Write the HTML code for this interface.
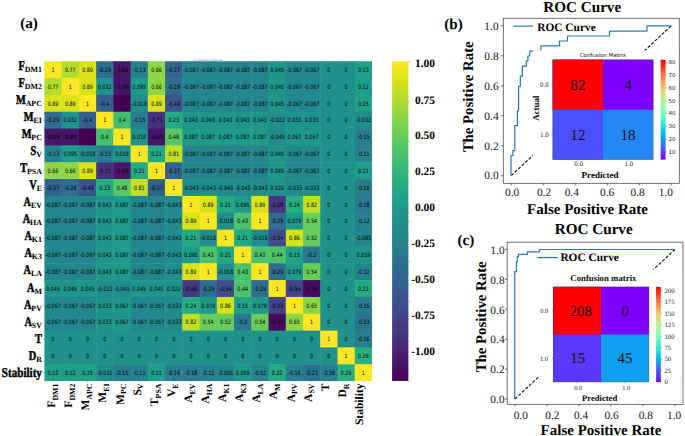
<!DOCTYPE html><html><head><meta charset="utf-8"><title>Figure</title>
<style>html,body{margin:0;padding:0;background:#fff}svg{display:block}text{text-rendering:geometricPrecision}.s{font-family:"Liberation Serif","DejaVu Serif",serif}.b{font-family:"Liberation Serif","DejaVu Serif",serif;font-weight:bold}.d{font-family:"DejaVu Sans","Liberation Sans",sans-serif}</style></head><body>
<svg width="685" height="436" viewBox="0 0 685 436">
<rect width="685" height="436" fill="#fff"/>
<g>
<rect x="44.40" y="61.25" width="17.74" height="17.33" fill="#fde725"/>
<rect x="61.64" y="61.25" width="17.74" height="17.33" fill="#b2dd2d"/>
<rect x="78.88" y="61.25" width="17.74" height="17.33" fill="#dae319"/>
<rect x="96.13" y="61.25" width="17.74" height="17.33" fill="#2e6d8e"/>
<rect x="113.37" y="61.25" width="17.74" height="17.33" fill="#481668"/>
<rect x="130.61" y="61.25" width="17.74" height="17.33" fill="#26818e"/>
<rect x="147.85" y="61.25" width="17.74" height="17.33" fill="#8ed645"/>
<rect x="165.09" y="61.25" width="17.74" height="17.33" fill="#33638d"/>
<rect x="182.34" y="61.25" width="17.74" height="17.33" fill="#25858e"/>
<rect x="199.58" y="61.25" width="17.74" height="17.33" fill="#25858e"/>
<rect x="216.82" y="61.25" width="17.74" height="17.33" fill="#25858e"/>
<rect x="234.06" y="61.25" width="17.74" height="17.33" fill="#25858e"/>
<rect x="251.31" y="61.25" width="17.74" height="17.33" fill="#25858e"/>
<rect x="268.55" y="61.25" width="17.74" height="17.33" fill="#1f958b"/>
<rect x="285.79" y="61.25" width="17.74" height="17.33" fill="#23888e"/>
<rect x="303.03" y="61.25" width="17.74" height="17.33" fill="#23888e"/>
<rect x="320.27" y="61.25" width="17.74" height="17.33" fill="#21918c"/>
<rect x="337.52" y="61.25" width="17.74" height="17.33" fill="#21918c"/>
<rect x="354.76" y="61.25" width="17.74" height="17.33" fill="#1fa088"/>
<rect x="44.40" y="78.08" width="17.74" height="17.33" fill="#b2dd2d"/>
<rect x="61.64" y="78.08" width="17.74" height="17.33" fill="#fde725"/>
<rect x="78.88" y="78.08" width="17.74" height="17.33" fill="#dae319"/>
<rect x="96.13" y="78.08" width="17.74" height="17.33" fill="#1f948c"/>
<rect x="113.37" y="78.08" width="17.74" height="17.33" fill="#481668"/>
<rect x="130.61" y="78.08" width="17.74" height="17.33" fill="#1e9c89"/>
<rect x="147.85" y="78.08" width="17.74" height="17.33" fill="#8ed645"/>
<rect x="165.09" y="78.08" width="17.74" height="17.33" fill="#2e6f8e"/>
<rect x="182.34" y="78.08" width="17.74" height="17.33" fill="#25858e"/>
<rect x="199.58" y="78.08" width="17.74" height="17.33" fill="#25858e"/>
<rect x="216.82" y="78.08" width="17.74" height="17.33" fill="#25858e"/>
<rect x="234.06" y="78.08" width="17.74" height="17.33" fill="#25858e"/>
<rect x="251.31" y="78.08" width="17.74" height="17.33" fill="#25858e"/>
<rect x="268.55" y="78.08" width="17.74" height="17.33" fill="#1f958b"/>
<rect x="285.79" y="78.08" width="17.74" height="17.33" fill="#23888e"/>
<rect x="303.03" y="78.08" width="17.74" height="17.33" fill="#23888e"/>
<rect x="320.27" y="78.08" width="17.74" height="17.33" fill="#21918c"/>
<rect x="337.52" y="78.08" width="17.74" height="17.33" fill="#21918c"/>
<rect x="354.76" y="78.08" width="17.74" height="17.33" fill="#1f9f88"/>
<rect x="44.40" y="94.92" width="17.74" height="17.33" fill="#dae319"/>
<rect x="61.64" y="94.92" width="17.74" height="17.33" fill="#dae319"/>
<rect x="78.88" y="94.92" width="17.74" height="17.33" fill="#fde725"/>
<rect x="96.13" y="94.92" width="17.74" height="17.33" fill="#355f8d"/>
<rect x="113.37" y="94.92" width="17.74" height="17.33" fill="#440154"/>
<rect x="130.61" y="94.92" width="17.74" height="17.33" fill="#218e8d"/>
<rect x="147.85" y="94.92" width="17.74" height="17.33" fill="#dae319"/>
<rect x="165.09" y="94.92" width="17.74" height="17.33" fill="#3a548c"/>
<rect x="182.34" y="94.92" width="17.74" height="17.33" fill="#25858e"/>
<rect x="199.58" y="94.92" width="17.74" height="17.33" fill="#25858e"/>
<rect x="216.82" y="94.92" width="17.74" height="17.33" fill="#25858e"/>
<rect x="234.06" y="94.92" width="17.74" height="17.33" fill="#25858e"/>
<rect x="251.31" y="94.92" width="17.74" height="17.33" fill="#25858e"/>
<rect x="268.55" y="94.92" width="17.74" height="17.33" fill="#1f958b"/>
<rect x="285.79" y="94.92" width="17.74" height="17.33" fill="#23888e"/>
<rect x="303.03" y="94.92" width="17.74" height="17.33" fill="#23888e"/>
<rect x="320.27" y="94.92" width="17.74" height="17.33" fill="#21918c"/>
<rect x="337.52" y="94.92" width="17.74" height="17.33" fill="#21918c"/>
<rect x="354.76" y="94.92" width="17.74" height="17.33" fill="#1fa287"/>
<rect x="44.40" y="111.75" width="17.74" height="17.33" fill="#2e6d8e"/>
<rect x="61.64" y="111.75" width="17.74" height="17.33" fill="#1f948c"/>
<rect x="78.88" y="111.75" width="17.74" height="17.33" fill="#355f8d"/>
<rect x="96.13" y="111.75" width="17.74" height="17.33" fill="#fde725"/>
<rect x="113.37" y="111.75" width="17.74" height="17.33" fill="#44bf70"/>
<rect x="130.61" y="111.75" width="17.74" height="17.33" fill="#277e8e"/>
<rect x="147.85" y="111.75" width="17.74" height="17.33" fill="#46337f"/>
<rect x="165.09" y="111.75" width="17.74" height="17.33" fill="#25ac82"/>
<rect x="182.34" y="111.75" width="17.74" height="17.33" fill="#1f958b"/>
<rect x="199.58" y="111.75" width="17.74" height="17.33" fill="#1f958b"/>
<rect x="216.82" y="111.75" width="17.74" height="17.33" fill="#1f958b"/>
<rect x="234.06" y="111.75" width="17.74" height="17.33" fill="#1f958b"/>
<rect x="251.31" y="111.75" width="17.74" height="17.33" fill="#1f958b"/>
<rect x="268.55" y="111.75" width="17.74" height="17.33" fill="#218e8d"/>
<rect x="285.79" y="111.75" width="17.74" height="17.33" fill="#1f948c"/>
<rect x="303.03" y="111.75" width="17.74" height="17.33" fill="#1f948c"/>
<rect x="320.27" y="111.75" width="17.74" height="17.33" fill="#21918c"/>
<rect x="337.52" y="111.75" width="17.74" height="17.33" fill="#21918c"/>
<rect x="354.76" y="111.75" width="17.74" height="17.33" fill="#228c8d"/>
<rect x="44.40" y="128.59" width="17.74" height="17.33" fill="#481668"/>
<rect x="61.64" y="128.59" width="17.74" height="17.33" fill="#481668"/>
<rect x="78.88" y="128.59" width="17.74" height="17.33" fill="#440154"/>
<rect x="96.13" y="128.59" width="17.74" height="17.33" fill="#44bf70"/>
<rect x="113.37" y="128.59" width="17.74" height="17.33" fill="#fde725"/>
<rect x="130.61" y="128.59" width="17.74" height="17.33" fill="#20928c"/>
<rect x="147.85" y="128.59" width="17.74" height="17.33" fill="#481668"/>
<rect x="165.09" y="128.59" width="17.74" height="17.33" fill="#58c765"/>
<rect x="182.34" y="128.59" width="17.74" height="17.33" fill="#1e9b8a"/>
<rect x="199.58" y="128.59" width="17.74" height="17.33" fill="#1e9b8a"/>
<rect x="216.82" y="128.59" width="17.74" height="17.33" fill="#1e9b8a"/>
<rect x="234.06" y="128.59" width="17.74" height="17.33" fill="#1e9b8a"/>
<rect x="251.31" y="128.59" width="17.74" height="17.33" fill="#1e9b8a"/>
<rect x="268.55" y="128.59" width="17.74" height="17.33" fill="#228b8d"/>
<rect x="285.79" y="128.59" width="17.74" height="17.33" fill="#1f988b"/>
<rect x="303.03" y="128.59" width="17.74" height="17.33" fill="#1f988b"/>
<rect x="320.27" y="128.59" width="17.74" height="17.33" fill="#21918c"/>
<rect x="337.52" y="128.59" width="17.74" height="17.33" fill="#21918c"/>
<rect x="354.76" y="128.59" width="17.74" height="17.33" fill="#277e8e"/>
<rect x="44.40" y="145.42" width="17.74" height="17.33" fill="#26818e"/>
<rect x="61.64" y="145.42" width="17.74" height="17.33" fill="#1e9c89"/>
<rect x="78.88" y="145.42" width="17.74" height="17.33" fill="#218e8d"/>
<rect x="96.13" y="145.42" width="17.74" height="17.33" fill="#277e8e"/>
<rect x="113.37" y="145.42" width="17.74" height="17.33" fill="#20928c"/>
<rect x="130.61" y="145.42" width="17.74" height="17.33" fill="#fde725"/>
<rect x="147.85" y="145.42" width="17.74" height="17.33" fill="#23a983"/>
<rect x="165.09" y="145.42" width="17.74" height="17.33" fill="#c0df25"/>
<rect x="182.34" y="145.42" width="17.74" height="17.33" fill="#25858e"/>
<rect x="199.58" y="145.42" width="17.74" height="17.33" fill="#25858e"/>
<rect x="216.82" y="145.42" width="17.74" height="17.33" fill="#25858e"/>
<rect x="234.06" y="145.42" width="17.74" height="17.33" fill="#25858e"/>
<rect x="251.31" y="145.42" width="17.74" height="17.33" fill="#25858e"/>
<rect x="268.55" y="145.42" width="17.74" height="17.33" fill="#1f958b"/>
<rect x="285.79" y="145.42" width="17.74" height="17.33" fill="#23888e"/>
<rect x="303.03" y="145.42" width="17.74" height="17.33" fill="#23888e"/>
<rect x="320.27" y="145.42" width="17.74" height="17.33" fill="#21918c"/>
<rect x="337.52" y="145.42" width="17.74" height="17.33" fill="#21918c"/>
<rect x="354.76" y="145.42" width="17.74" height="17.33" fill="#26828e"/>
<rect x="44.40" y="162.26" width="17.74" height="17.33" fill="#8ed645"/>
<rect x="61.64" y="162.26" width="17.74" height="17.33" fill="#8ed645"/>
<rect x="78.88" y="162.26" width="17.74" height="17.33" fill="#dae319"/>
<rect x="96.13" y="162.26" width="17.74" height="17.33" fill="#46337f"/>
<rect x="113.37" y="162.26" width="17.74" height="17.33" fill="#481668"/>
<rect x="130.61" y="162.26" width="17.74" height="17.33" fill="#23a983"/>
<rect x="147.85" y="162.26" width="17.74" height="17.33" fill="#fde725"/>
<rect x="165.09" y="162.26" width="17.74" height="17.33" fill="#33638d"/>
<rect x="182.34" y="162.26" width="17.74" height="17.33" fill="#25858e"/>
<rect x="199.58" y="162.26" width="17.74" height="17.33" fill="#25858e"/>
<rect x="216.82" y="162.26" width="17.74" height="17.33" fill="#25858e"/>
<rect x="234.06" y="162.26" width="17.74" height="17.33" fill="#25858e"/>
<rect x="251.31" y="162.26" width="17.74" height="17.33" fill="#25858e"/>
<rect x="268.55" y="162.26" width="17.74" height="17.33" fill="#1f958b"/>
<rect x="285.79" y="162.26" width="17.74" height="17.33" fill="#23888e"/>
<rect x="303.03" y="162.26" width="17.74" height="17.33" fill="#23888e"/>
<rect x="320.27" y="162.26" width="17.74" height="17.33" fill="#21918c"/>
<rect x="337.52" y="162.26" width="17.74" height="17.33" fill="#21918c"/>
<rect x="354.76" y="162.26" width="17.74" height="17.33" fill="#1f9e89"/>
<rect x="44.40" y="179.09" width="17.74" height="17.33" fill="#33638d"/>
<rect x="61.64" y="179.09" width="17.74" height="17.33" fill="#2e6f8e"/>
<rect x="78.88" y="179.09" width="17.74" height="17.33" fill="#3a548c"/>
<rect x="96.13" y="179.09" width="17.74" height="17.33" fill="#25ac82"/>
<rect x="113.37" y="179.09" width="17.74" height="17.33" fill="#58c765"/>
<rect x="130.61" y="179.09" width="17.74" height="17.33" fill="#c0df25"/>
<rect x="147.85" y="179.09" width="17.74" height="17.33" fill="#33638d"/>
<rect x="165.09" y="179.09" width="17.74" height="17.33" fill="#fde725"/>
<rect x="182.34" y="179.09" width="17.74" height="17.33" fill="#228b8d"/>
<rect x="199.58" y="179.09" width="17.74" height="17.33" fill="#228b8d"/>
<rect x="216.82" y="179.09" width="17.74" height="17.33" fill="#228b8d"/>
<rect x="234.06" y="179.09" width="17.74" height="17.33" fill="#228b8d"/>
<rect x="251.31" y="179.09" width="17.74" height="17.33" fill="#228b8d"/>
<rect x="268.55" y="179.09" width="17.74" height="17.33" fill="#20928c"/>
<rect x="285.79" y="179.09" width="17.74" height="17.33" fill="#228c8d"/>
<rect x="303.03" y="179.09" width="17.74" height="17.33" fill="#228c8d"/>
<rect x="320.27" y="179.09" width="17.74" height="17.33" fill="#21918c"/>
<rect x="337.52" y="179.09" width="17.74" height="17.33" fill="#21918c"/>
<rect x="354.76" y="179.09" width="17.74" height="17.33" fill="#287d8e"/>
<rect x="44.40" y="195.92" width="17.74" height="17.33" fill="#25858e"/>
<rect x="61.64" y="195.92" width="17.74" height="17.33" fill="#25858e"/>
<rect x="78.88" y="195.92" width="17.74" height="17.33" fill="#25858e"/>
<rect x="96.13" y="195.92" width="17.74" height="17.33" fill="#1f958b"/>
<rect x="113.37" y="195.92" width="17.74" height="17.33" fill="#1e9b8a"/>
<rect x="130.61" y="195.92" width="17.74" height="17.33" fill="#25858e"/>
<rect x="147.85" y="195.92" width="17.74" height="17.33" fill="#25858e"/>
<rect x="165.09" y="195.92" width="17.74" height="17.33" fill="#228b8d"/>
<rect x="182.34" y="195.92" width="17.74" height="17.33" fill="#fde725"/>
<rect x="199.58" y="195.92" width="17.74" height="17.33" fill="#dae319"/>
<rect x="216.82" y="195.92" width="17.74" height="17.33" fill="#23a983"/>
<rect x="234.06" y="195.92" width="17.74" height="17.33" fill="#1e9c89"/>
<rect x="251.31" y="195.92" width="17.74" height="17.33" fill="#dae319"/>
<rect x="268.55" y="195.92" width="17.74" height="17.33" fill="#453781"/>
<rect x="285.79" y="195.92" width="17.74" height="17.33" fill="#26ad81"/>
<rect x="303.03" y="195.92" width="17.74" height="17.33" fill="#c2df23"/>
<rect x="320.27" y="195.92" width="17.74" height="17.33" fill="#21918c"/>
<rect x="337.52" y="195.92" width="17.74" height="17.33" fill="#21918c"/>
<rect x="354.76" y="195.92" width="17.74" height="17.33" fill="#297a8e"/>
<rect x="44.40" y="212.76" width="17.74" height="17.33" fill="#25858e"/>
<rect x="61.64" y="212.76" width="17.74" height="17.33" fill="#25858e"/>
<rect x="78.88" y="212.76" width="17.74" height="17.33" fill="#25858e"/>
<rect x="96.13" y="212.76" width="17.74" height="17.33" fill="#1f958b"/>
<rect x="113.37" y="212.76" width="17.74" height="17.33" fill="#1e9b8a"/>
<rect x="130.61" y="212.76" width="17.74" height="17.33" fill="#25858e"/>
<rect x="147.85" y="212.76" width="17.74" height="17.33" fill="#25858e"/>
<rect x="165.09" y="212.76" width="17.74" height="17.33" fill="#228b8d"/>
<rect x="182.34" y="212.76" width="17.74" height="17.33" fill="#dae319"/>
<rect x="199.58" y="212.76" width="17.74" height="17.33" fill="#fde725"/>
<rect x="216.82" y="212.76" width="17.74" height="17.33" fill="#218e8d"/>
<rect x="234.06" y="212.76" width="17.74" height="17.33" fill="#4cc26c"/>
<rect x="251.31" y="212.76" width="17.74" height="17.33" fill="#fde725"/>
<rect x="268.55" y="212.76" width="17.74" height="17.33" fill="#2e6d8e"/>
<rect x="285.79" y="212.76" width="17.74" height="17.33" fill="#1f9a8a"/>
<rect x="303.03" y="212.76" width="17.74" height="17.33" fill="#69cd5b"/>
<rect x="320.27" y="212.76" width="17.74" height="17.33" fill="#21918c"/>
<rect x="337.52" y="212.76" width="17.74" height="17.33" fill="#21918c"/>
<rect x="354.76" y="212.76" width="17.74" height="17.33" fill="#26828e"/>
<rect x="44.40" y="229.59" width="17.74" height="17.33" fill="#25858e"/>
<rect x="61.64" y="229.59" width="17.74" height="17.33" fill="#25858e"/>
<rect x="78.88" y="229.59" width="17.74" height="17.33" fill="#25858e"/>
<rect x="96.13" y="229.59" width="17.74" height="17.33" fill="#1f958b"/>
<rect x="113.37" y="229.59" width="17.74" height="17.33" fill="#1e9b8a"/>
<rect x="130.61" y="229.59" width="17.74" height="17.33" fill="#25858e"/>
<rect x="147.85" y="229.59" width="17.74" height="17.33" fill="#25858e"/>
<rect x="165.09" y="229.59" width="17.74" height="17.33" fill="#228b8d"/>
<rect x="182.34" y="229.59" width="17.74" height="17.33" fill="#23a983"/>
<rect x="199.58" y="229.59" width="17.74" height="17.33" fill="#218e8d"/>
<rect x="216.82" y="229.59" width="17.74" height="17.33" fill="#fde725"/>
<rect x="234.06" y="229.59" width="17.74" height="17.33" fill="#23a983"/>
<rect x="251.31" y="229.59" width="17.74" height="17.33" fill="#218e8d"/>
<rect x="268.55" y="229.59" width="17.74" height="17.33" fill="#3e4c8a"/>
<rect x="285.79" y="229.59" width="17.74" height="17.33" fill="#d2e21b"/>
<rect x="303.03" y="229.59" width="17.74" height="17.33" fill="#63cb5f"/>
<rect x="320.27" y="229.59" width="17.74" height="17.33" fill="#21918c"/>
<rect x="337.52" y="229.59" width="17.74" height="17.33" fill="#21918c"/>
<rect x="354.76" y="229.59" width="17.74" height="17.33" fill="#25848e"/>
<rect x="44.40" y="246.43" width="17.74" height="17.33" fill="#25858e"/>
<rect x="61.64" y="246.43" width="17.74" height="17.33" fill="#25858e"/>
<rect x="78.88" y="246.43" width="17.74" height="17.33" fill="#25858e"/>
<rect x="96.13" y="246.43" width="17.74" height="17.33" fill="#1f958b"/>
<rect x="113.37" y="246.43" width="17.74" height="17.33" fill="#1e9b8a"/>
<rect x="130.61" y="246.43" width="17.74" height="17.33" fill="#25858e"/>
<rect x="147.85" y="246.43" width="17.74" height="17.33" fill="#25858e"/>
<rect x="165.09" y="246.43" width="17.74" height="17.33" fill="#228b8d"/>
<rect x="182.34" y="246.43" width="17.74" height="17.33" fill="#1e9c89"/>
<rect x="199.58" y="246.43" width="17.74" height="17.33" fill="#4cc26c"/>
<rect x="216.82" y="246.43" width="17.74" height="17.33" fill="#23a983"/>
<rect x="234.06" y="246.43" width="17.74" height="17.33" fill="#fde725"/>
<rect x="251.31" y="246.43" width="17.74" height="17.33" fill="#4cc26c"/>
<rect x="268.55" y="246.43" width="17.74" height="17.33" fill="#4ec36b"/>
<rect x="285.79" y="246.43" width="17.74" height="17.33" fill="#1fa287"/>
<rect x="303.03" y="246.43" width="17.74" height="17.33" fill="#2a788e"/>
<rect x="320.27" y="246.43" width="17.74" height="17.33" fill="#21918c"/>
<rect x="337.52" y="246.43" width="17.74" height="17.33" fill="#21918c"/>
<rect x="354.76" y="246.43" width="17.74" height="17.33" fill="#1f978b"/>
<rect x="44.40" y="263.26" width="17.74" height="17.33" fill="#25858e"/>
<rect x="61.64" y="263.26" width="17.74" height="17.33" fill="#25858e"/>
<rect x="78.88" y="263.26" width="17.74" height="17.33" fill="#25858e"/>
<rect x="96.13" y="263.26" width="17.74" height="17.33" fill="#1f958b"/>
<rect x="113.37" y="263.26" width="17.74" height="17.33" fill="#1e9b8a"/>
<rect x="130.61" y="263.26" width="17.74" height="17.33" fill="#25858e"/>
<rect x="147.85" y="263.26" width="17.74" height="17.33" fill="#25858e"/>
<rect x="165.09" y="263.26" width="17.74" height="17.33" fill="#228b8d"/>
<rect x="182.34" y="263.26" width="17.74" height="17.33" fill="#dae319"/>
<rect x="199.58" y="263.26" width="17.74" height="17.33" fill="#fde725"/>
<rect x="216.82" y="263.26" width="17.74" height="17.33" fill="#218e8d"/>
<rect x="234.06" y="263.26" width="17.74" height="17.33" fill="#4cc26c"/>
<rect x="251.31" y="263.26" width="17.74" height="17.33" fill="#fde725"/>
<rect x="268.55" y="263.26" width="17.74" height="17.33" fill="#2e6d8e"/>
<rect x="285.79" y="263.26" width="17.74" height="17.33" fill="#1f9a8a"/>
<rect x="303.03" y="263.26" width="17.74" height="17.33" fill="#69cd5b"/>
<rect x="320.27" y="263.26" width="17.74" height="17.33" fill="#21918c"/>
<rect x="337.52" y="263.26" width="17.74" height="17.33" fill="#21918c"/>
<rect x="354.76" y="263.26" width="17.74" height="17.33" fill="#26828e"/>
<rect x="44.40" y="280.09" width="17.74" height="17.33" fill="#1f958b"/>
<rect x="61.64" y="280.09" width="17.74" height="17.33" fill="#1f958b"/>
<rect x="78.88" y="280.09" width="17.74" height="17.33" fill="#1f958b"/>
<rect x="96.13" y="280.09" width="17.74" height="17.33" fill="#218e8d"/>
<rect x="113.37" y="280.09" width="17.74" height="17.33" fill="#228b8d"/>
<rect x="130.61" y="280.09" width="17.74" height="17.33" fill="#1f958b"/>
<rect x="147.85" y="280.09" width="17.74" height="17.33" fill="#1f958b"/>
<rect x="165.09" y="280.09" width="17.74" height="17.33" fill="#20928c"/>
<rect x="182.34" y="280.09" width="17.74" height="17.33" fill="#453781"/>
<rect x="199.58" y="280.09" width="17.74" height="17.33" fill="#2e6d8e"/>
<rect x="216.82" y="280.09" width="17.74" height="17.33" fill="#3e4c8a"/>
<rect x="234.06" y="280.09" width="17.74" height="17.33" fill="#4ec36b"/>
<rect x="251.31" y="280.09" width="17.74" height="17.33" fill="#2e6d8e"/>
<rect x="268.55" y="280.09" width="17.74" height="17.33" fill="#fde725"/>
<rect x="285.79" y="280.09" width="17.74" height="17.33" fill="#404588"/>
<rect x="303.03" y="280.09" width="17.74" height="17.33" fill="#460a5d"/>
<rect x="320.27" y="280.09" width="17.74" height="17.33" fill="#21918c"/>
<rect x="337.52" y="280.09" width="17.74" height="17.33" fill="#21918c"/>
<rect x="354.76" y="280.09" width="17.74" height="17.33" fill="#25ab82"/>
<rect x="44.40" y="296.93" width="17.74" height="17.33" fill="#23888e"/>
<rect x="61.64" y="296.93" width="17.74" height="17.33" fill="#23888e"/>
<rect x="78.88" y="296.93" width="17.74" height="17.33" fill="#23888e"/>
<rect x="96.13" y="296.93" width="17.74" height="17.33" fill="#1f948c"/>
<rect x="113.37" y="296.93" width="17.74" height="17.33" fill="#1f988b"/>
<rect x="130.61" y="296.93" width="17.74" height="17.33" fill="#23888e"/>
<rect x="147.85" y="296.93" width="17.74" height="17.33" fill="#23888e"/>
<rect x="165.09" y="296.93" width="17.74" height="17.33" fill="#228c8d"/>
<rect x="182.34" y="296.93" width="17.74" height="17.33" fill="#26ad81"/>
<rect x="199.58" y="296.93" width="17.74" height="17.33" fill="#1f9a8a"/>
<rect x="216.82" y="296.93" width="17.74" height="17.33" fill="#d2e21b"/>
<rect x="234.06" y="296.93" width="17.74" height="17.33" fill="#1fa287"/>
<rect x="251.31" y="296.93" width="17.74" height="17.33" fill="#1f9a8a"/>
<rect x="268.55" y="296.93" width="17.74" height="17.33" fill="#404588"/>
<rect x="285.79" y="296.93" width="17.74" height="17.33" fill="#fde725"/>
<rect x="303.03" y="296.93" width="17.74" height="17.33" fill="#8bd646"/>
<rect x="320.27" y="296.93" width="17.74" height="17.33" fill="#21918c"/>
<rect x="337.52" y="296.93" width="17.74" height="17.33" fill="#21918c"/>
<rect x="354.76" y="296.93" width="17.74" height="17.33" fill="#287d8e"/>
<rect x="44.40" y="313.76" width="17.74" height="17.33" fill="#23888e"/>
<rect x="61.64" y="313.76" width="17.74" height="17.33" fill="#23888e"/>
<rect x="78.88" y="313.76" width="17.74" height="17.33" fill="#23888e"/>
<rect x="96.13" y="313.76" width="17.74" height="17.33" fill="#1f948c"/>
<rect x="113.37" y="313.76" width="17.74" height="17.33" fill="#1f988b"/>
<rect x="130.61" y="313.76" width="17.74" height="17.33" fill="#23888e"/>
<rect x="147.85" y="313.76" width="17.74" height="17.33" fill="#23888e"/>
<rect x="165.09" y="313.76" width="17.74" height="17.33" fill="#228c8d"/>
<rect x="182.34" y="313.76" width="17.74" height="17.33" fill="#c2df23"/>
<rect x="199.58" y="313.76" width="17.74" height="17.33" fill="#69cd5b"/>
<rect x="216.82" y="313.76" width="17.74" height="17.33" fill="#63cb5f"/>
<rect x="234.06" y="313.76" width="17.74" height="17.33" fill="#2a788e"/>
<rect x="251.31" y="313.76" width="17.74" height="17.33" fill="#69cd5b"/>
<rect x="268.55" y="313.76" width="17.74" height="17.33" fill="#460a5d"/>
<rect x="285.79" y="313.76" width="17.74" height="17.33" fill="#8bd646"/>
<rect x="303.03" y="313.76" width="17.74" height="17.33" fill="#fde725"/>
<rect x="320.27" y="313.76" width="17.74" height="17.33" fill="#21918c"/>
<rect x="337.52" y="313.76" width="17.74" height="17.33" fill="#21918c"/>
<rect x="354.76" y="313.76" width="17.74" height="17.33" fill="#2b748e"/>
<rect x="44.40" y="330.60" width="17.74" height="17.33" fill="#21918c"/>
<rect x="61.64" y="330.60" width="17.74" height="17.33" fill="#21918c"/>
<rect x="78.88" y="330.60" width="17.74" height="17.33" fill="#21918c"/>
<rect x="96.13" y="330.60" width="17.74" height="17.33" fill="#21918c"/>
<rect x="113.37" y="330.60" width="17.74" height="17.33" fill="#21918c"/>
<rect x="130.61" y="330.60" width="17.74" height="17.33" fill="#21918c"/>
<rect x="147.85" y="330.60" width="17.74" height="17.33" fill="#21918c"/>
<rect x="165.09" y="330.60" width="17.74" height="17.33" fill="#21918c"/>
<rect x="182.34" y="330.60" width="17.74" height="17.33" fill="#21918c"/>
<rect x="199.58" y="330.60" width="17.74" height="17.33" fill="#21918c"/>
<rect x="216.82" y="330.60" width="17.74" height="17.33" fill="#21918c"/>
<rect x="234.06" y="330.60" width="17.74" height="17.33" fill="#21918c"/>
<rect x="251.31" y="330.60" width="17.74" height="17.33" fill="#21918c"/>
<rect x="268.55" y="330.60" width="17.74" height="17.33" fill="#21918c"/>
<rect x="285.79" y="330.60" width="17.74" height="17.33" fill="#21918c"/>
<rect x="303.03" y="330.60" width="17.74" height="17.33" fill="#21918c"/>
<rect x="320.27" y="330.60" width="17.74" height="17.33" fill="#fde725"/>
<rect x="337.52" y="330.60" width="17.74" height="17.33" fill="#21918c"/>
<rect x="354.76" y="330.60" width="17.74" height="17.33" fill="#287d8e"/>
<rect x="44.40" y="347.43" width="17.74" height="17.33" fill="#21918c"/>
<rect x="61.64" y="347.43" width="17.74" height="17.33" fill="#21918c"/>
<rect x="78.88" y="347.43" width="17.74" height="17.33" fill="#21918c"/>
<rect x="96.13" y="347.43" width="17.74" height="17.33" fill="#21918c"/>
<rect x="113.37" y="347.43" width="17.74" height="17.33" fill="#21918c"/>
<rect x="130.61" y="347.43" width="17.74" height="17.33" fill="#21918c"/>
<rect x="147.85" y="347.43" width="17.74" height="17.33" fill="#21918c"/>
<rect x="165.09" y="347.43" width="17.74" height="17.33" fill="#21918c"/>
<rect x="182.34" y="347.43" width="17.74" height="17.33" fill="#21918c"/>
<rect x="199.58" y="347.43" width="17.74" height="17.33" fill="#21918c"/>
<rect x="216.82" y="347.43" width="17.74" height="17.33" fill="#21918c"/>
<rect x="234.06" y="347.43" width="17.74" height="17.33" fill="#21918c"/>
<rect x="251.31" y="347.43" width="17.74" height="17.33" fill="#21918c"/>
<rect x="268.55" y="347.43" width="17.74" height="17.33" fill="#21918c"/>
<rect x="285.79" y="347.43" width="17.74" height="17.33" fill="#21918c"/>
<rect x="303.03" y="347.43" width="17.74" height="17.33" fill="#21918c"/>
<rect x="320.27" y="347.43" width="17.74" height="17.33" fill="#21918c"/>
<rect x="337.52" y="347.43" width="17.74" height="17.33" fill="#fde725"/>
<rect x="354.76" y="347.43" width="17.74" height="17.33" fill="#29af7f"/>
<rect x="44.40" y="364.27" width="17.74" height="17.33" fill="#1fa088"/>
<rect x="61.64" y="364.27" width="17.74" height="17.33" fill="#1f9f88"/>
<rect x="78.88" y="364.27" width="17.74" height="17.33" fill="#1fa287"/>
<rect x="96.13" y="364.27" width="17.74" height="17.33" fill="#228c8d"/>
<rect x="113.37" y="364.27" width="17.74" height="17.33" fill="#277e8e"/>
<rect x="130.61" y="364.27" width="17.74" height="17.33" fill="#26828e"/>
<rect x="147.85" y="364.27" width="17.74" height="17.33" fill="#1f9e89"/>
<rect x="165.09" y="364.27" width="17.74" height="17.33" fill="#287d8e"/>
<rect x="182.34" y="364.27" width="17.74" height="17.33" fill="#297a8e"/>
<rect x="199.58" y="364.27" width="17.74" height="17.33" fill="#26828e"/>
<rect x="216.82" y="364.27" width="17.74" height="17.33" fill="#25848e"/>
<rect x="234.06" y="364.27" width="17.74" height="17.33" fill="#1f978b"/>
<rect x="251.31" y="364.27" width="17.74" height="17.33" fill="#26828e"/>
<rect x="268.55" y="364.27" width="17.74" height="17.33" fill="#25ab82"/>
<rect x="285.79" y="364.27" width="17.74" height="17.33" fill="#287d8e"/>
<rect x="303.03" y="364.27" width="17.74" height="17.33" fill="#2b748e"/>
<rect x="320.27" y="364.27" width="17.74" height="17.33" fill="#287d8e"/>
<rect x="337.52" y="364.27" width="17.74" height="17.33" fill="#29af7f"/>
<rect x="354.76" y="364.27" width="17.74" height="17.33" fill="#fde725"/>
</g>
<rect x="372.00" y="60.25" width="2" height="322.85" fill="#fff"/>
<rect x="43.4" y="381.10" width="330.6" height="2" fill="#fff"/>
<g class="d" font-size="4.8" text-anchor="middle" fill="#000">
<text transform="translate(53.02,71.92) scale(1,1.25)">1</text>
<text transform="translate(70.26,71.92) scale(1,1.25)">0.77</text>
<text transform="translate(87.51,71.92) scale(1,1.25)">0.89</text>
<text transform="translate(104.75,71.92) scale(1,1.25)">-0.29</text>
<text transform="translate(121.99,71.92) scale(1,1.25)">-0.89</text>
<text transform="translate(139.23,71.92) scale(1,1.25)">-0.13</text>
<text transform="translate(156.47,71.92) scale(1,1.25)">0.66</text>
<text transform="translate(173.72,71.92) scale(1,1.25)">-0.37</text>
<text transform="translate(190.96,71.92) scale(1,1.25)">-0.087</text>
<text transform="translate(208.20,71.92) scale(1,1.25)">-0.087</text>
<text transform="translate(225.44,71.92) scale(1,1.25)">-0.087</text>
<text transform="translate(242.68,71.92) scale(1,1.25)">-0.087</text>
<text transform="translate(259.93,71.92) scale(1,1.25)">-0.087</text>
<text transform="translate(277.17,71.92) scale(1,1.25)">0.045</text>
<text transform="translate(294.41,71.92) scale(1,1.25)">-0.067</text>
<text transform="translate(311.65,71.92) scale(1,1.25)">-0.067</text>
<text transform="translate(328.89,71.92) scale(1,1.25)">0</text>
<text transform="translate(346.14,71.92) scale(1,1.25)">0</text>
<text transform="translate(363.38,71.92) scale(1,1.25)">0.13</text>
<text transform="translate(53.02,88.75) scale(1,1.25)">0.77</text>
<text transform="translate(70.26,88.75) scale(1,1.25)">1</text>
<text transform="translate(87.51,88.75) scale(1,1.25)">0.89</text>
<text transform="translate(104.75,88.75) scale(1,1.25)">0.032</text>
<text transform="translate(121.99,88.75) scale(1,1.25)">-0.89</text>
<text transform="translate(139.23,88.75) scale(1,1.25)">0.095</text>
<text transform="translate(156.47,88.75) scale(1,1.25)">0.66</text>
<text transform="translate(173.72,88.75) scale(1,1.25)">-0.28</text>
<text transform="translate(190.96,88.75) scale(1,1.25)">-0.087</text>
<text transform="translate(208.20,88.75) scale(1,1.25)">-0.087</text>
<text transform="translate(225.44,88.75) scale(1,1.25)">-0.087</text>
<text transform="translate(242.68,88.75) scale(1,1.25)">-0.087</text>
<text transform="translate(259.93,88.75) scale(1,1.25)">-0.087</text>
<text transform="translate(277.17,88.75) scale(1,1.25)">0.045</text>
<text transform="translate(294.41,88.75) scale(1,1.25)">-0.067</text>
<text transform="translate(311.65,88.75) scale(1,1.25)">-0.067</text>
<text transform="translate(328.89,88.75) scale(1,1.25)">0</text>
<text transform="translate(346.14,88.75) scale(1,1.25)">0</text>
<text transform="translate(363.38,88.75) scale(1,1.25)">0.12</text>
<text transform="translate(53.02,105.59) scale(1,1.25)">0.89</text>
<text transform="translate(70.26,105.59) scale(1,1.25)">0.89</text>
<text transform="translate(87.51,105.59) scale(1,1.25)">1</text>
<text transform="translate(104.75,105.59) scale(1,1.25)">-0.4</text>
<text transform="translate(121.99,105.59) scale(1,1.25)">-1</text>
<text transform="translate(139.23,105.59) scale(1,1.25)">-0.018</text>
<text transform="translate(156.47,105.59) scale(1,1.25)">0.89</text>
<text transform="translate(173.72,105.59) scale(1,1.25)">-0.48</text>
<text transform="translate(190.96,105.59) scale(1,1.25)">-0.087</text>
<text transform="translate(208.20,105.59) scale(1,1.25)">-0.087</text>
<text transform="translate(225.44,105.59) scale(1,1.25)">-0.087</text>
<text transform="translate(242.68,105.59) scale(1,1.25)">-0.087</text>
<text transform="translate(259.93,105.59) scale(1,1.25)">-0.087</text>
<text transform="translate(277.17,105.59) scale(1,1.25)">0.045</text>
<text transform="translate(294.41,105.59) scale(1,1.25)">-0.067</text>
<text transform="translate(311.65,105.59) scale(1,1.25)">-0.067</text>
<text transform="translate(328.89,105.59) scale(1,1.25)">0</text>
<text transform="translate(346.14,105.59) scale(1,1.25)">0</text>
<text transform="translate(363.38,105.59) scale(1,1.25)">0.15</text>
<text transform="translate(53.02,122.42) scale(1,1.25)">-0.29</text>
<text transform="translate(70.26,122.42) scale(1,1.25)">0.032</text>
<text transform="translate(87.51,122.42) scale(1,1.25)">-0.4</text>
<text transform="translate(104.75,122.42) scale(1,1.25)">1</text>
<text transform="translate(121.99,122.42) scale(1,1.25)">0.4</text>
<text transform="translate(139.23,122.42) scale(1,1.25)">-0.15</text>
<text transform="translate(156.47,122.42) scale(1,1.25)">-0.71</text>
<text transform="translate(173.72,122.42) scale(1,1.25)">0.23</text>
<text transform="translate(190.96,122.42) scale(1,1.25)">0.043</text>
<text transform="translate(208.20,122.42) scale(1,1.25)">0.043</text>
<text transform="translate(225.44,122.42) scale(1,1.25)">0.043</text>
<text transform="translate(242.68,122.42) scale(1,1.25)">0.043</text>
<text transform="translate(259.93,122.42) scale(1,1.25)">0.043</text>
<text transform="translate(277.17,122.42) scale(1,1.25)">-0.022</text>
<text transform="translate(294.41,122.42) scale(1,1.25)">0.033</text>
<text transform="translate(311.65,122.42) scale(1,1.25)">0.033</text>
<text transform="translate(328.89,122.42) scale(1,1.25)">0</text>
<text transform="translate(346.14,122.42) scale(1,1.25)">0</text>
<text transform="translate(363.38,122.42) scale(1,1.25)">-0.032</text>
<text transform="translate(53.02,139.25) scale(1,1.25)">-0.89</text>
<text transform="translate(70.26,139.25) scale(1,1.25)">-0.89</text>
<text transform="translate(87.51,139.25) scale(1,1.25)">-1</text>
<text transform="translate(104.75,139.25) scale(1,1.25)">0.4</text>
<text transform="translate(121.99,139.25) scale(1,1.25)">1</text>
<text transform="translate(139.23,139.25) scale(1,1.25)">0.018</text>
<text transform="translate(156.47,139.25) scale(1,1.25)">-0.89</text>
<text transform="translate(173.72,139.25) scale(1,1.25)">0.48</text>
<text transform="translate(190.96,139.25) scale(1,1.25)">0.087</text>
<text transform="translate(208.20,139.25) scale(1,1.25)">0.087</text>
<text transform="translate(225.44,139.25) scale(1,1.25)">0.087</text>
<text transform="translate(242.68,139.25) scale(1,1.25)">0.087</text>
<text transform="translate(259.93,139.25) scale(1,1.25)">0.087</text>
<text transform="translate(277.17,139.25) scale(1,1.25)">-0.045</text>
<text transform="translate(294.41,139.25) scale(1,1.25)">0.067</text>
<text transform="translate(311.65,139.25) scale(1,1.25)">0.067</text>
<text transform="translate(328.89,139.25) scale(1,1.25)">0</text>
<text transform="translate(346.14,139.25) scale(1,1.25)">0</text>
<text transform="translate(363.38,139.25) scale(1,1.25)">-0.15</text>
<text transform="translate(53.02,156.09) scale(1,1.25)">-0.13</text>
<text transform="translate(70.26,156.09) scale(1,1.25)">0.095</text>
<text transform="translate(87.51,156.09) scale(1,1.25)">-0.018</text>
<text transform="translate(104.75,156.09) scale(1,1.25)">-0.15</text>
<text transform="translate(121.99,156.09) scale(1,1.25)">0.018</text>
<text transform="translate(139.23,156.09) scale(1,1.25)">1</text>
<text transform="translate(156.47,156.09) scale(1,1.25)">0.21</text>
<text transform="translate(173.72,156.09) scale(1,1.25)">0.81</text>
<text transform="translate(190.96,156.09) scale(1,1.25)">-0.087</text>
<text transform="translate(208.20,156.09) scale(1,1.25)">-0.087</text>
<text transform="translate(225.44,156.09) scale(1,1.25)">-0.087</text>
<text transform="translate(242.68,156.09) scale(1,1.25)">-0.087</text>
<text transform="translate(259.93,156.09) scale(1,1.25)">-0.087</text>
<text transform="translate(277.17,156.09) scale(1,1.25)">0.045</text>
<text transform="translate(294.41,156.09) scale(1,1.25)">-0.067</text>
<text transform="translate(311.65,156.09) scale(1,1.25)">-0.067</text>
<text transform="translate(328.89,156.09) scale(1,1.25)">0</text>
<text transform="translate(346.14,156.09) scale(1,1.25)">0</text>
<text transform="translate(363.38,156.09) scale(1,1.25)">-0.11</text>
<text transform="translate(53.02,172.92) scale(1,1.25)">0.66</text>
<text transform="translate(70.26,172.92) scale(1,1.25)">0.66</text>
<text transform="translate(87.51,172.92) scale(1,1.25)">0.89</text>
<text transform="translate(104.75,172.92) scale(1,1.25)">-0.71</text>
<text transform="translate(121.99,172.92) scale(1,1.25)">-0.89</text>
<text transform="translate(139.23,172.92) scale(1,1.25)">0.21</text>
<text transform="translate(156.47,172.92) scale(1,1.25)">1</text>
<text transform="translate(173.72,172.92) scale(1,1.25)">-0.37</text>
<text transform="translate(190.96,172.92) scale(1,1.25)">-0.087</text>
<text transform="translate(208.20,172.92) scale(1,1.25)">-0.087</text>
<text transform="translate(225.44,172.92) scale(1,1.25)">-0.087</text>
<text transform="translate(242.68,172.92) scale(1,1.25)">-0.087</text>
<text transform="translate(259.93,172.92) scale(1,1.25)">-0.087</text>
<text transform="translate(277.17,172.92) scale(1,1.25)">0.045</text>
<text transform="translate(294.41,172.92) scale(1,1.25)">-0.067</text>
<text transform="translate(311.65,172.92) scale(1,1.25)">-0.067</text>
<text transform="translate(328.89,172.92) scale(1,1.25)">0</text>
<text transform="translate(346.14,172.92) scale(1,1.25)">0</text>
<text transform="translate(363.38,172.92) scale(1,1.25)">0.11</text>
<text transform="translate(53.02,189.76) scale(1,1.25)">-0.37</text>
<text transform="translate(70.26,189.76) scale(1,1.25)">-0.28</text>
<text transform="translate(87.51,189.76) scale(1,1.25)">-0.48</text>
<text transform="translate(104.75,189.76) scale(1,1.25)">0.23</text>
<text transform="translate(121.99,189.76) scale(1,1.25)">0.48</text>
<text transform="translate(139.23,189.76) scale(1,1.25)">0.81</text>
<text transform="translate(156.47,189.76) scale(1,1.25)">-0.37</text>
<text transform="translate(173.72,189.76) scale(1,1.25)">1</text>
<text transform="translate(190.96,189.76) scale(1,1.25)">-0.043</text>
<text transform="translate(208.20,189.76) scale(1,1.25)">-0.043</text>
<text transform="translate(225.44,189.76) scale(1,1.25)">-0.043</text>
<text transform="translate(242.68,189.76) scale(1,1.25)">-0.043</text>
<text transform="translate(259.93,189.76) scale(1,1.25)">-0.043</text>
<text transform="translate(277.17,189.76) scale(1,1.25)">0.022</text>
<text transform="translate(294.41,189.76) scale(1,1.25)">-0.033</text>
<text transform="translate(311.65,189.76) scale(1,1.25)">-0.033</text>
<text transform="translate(328.89,189.76) scale(1,1.25)">0</text>
<text transform="translate(346.14,189.76) scale(1,1.25)">0</text>
<text transform="translate(363.38,189.76) scale(1,1.25)">-0.16</text>
<text transform="translate(53.02,206.59) scale(1,1.25)">-0.087</text>
<text transform="translate(70.26,206.59) scale(1,1.25)">-0.087</text>
<text transform="translate(87.51,206.59) scale(1,1.25)">-0.087</text>
<text transform="translate(104.75,206.59) scale(1,1.25)">0.043</text>
<text transform="translate(121.99,206.59) scale(1,1.25)">0.087</text>
<text transform="translate(139.23,206.59) scale(1,1.25)">-0.087</text>
<text transform="translate(156.47,206.59) scale(1,1.25)">-0.087</text>
<text transform="translate(173.72,206.59) scale(1,1.25)">-0.043</text>
<text transform="translate(190.96,206.59) scale(1,1.25)">1</text>
<text transform="translate(208.20,206.59) scale(1,1.25)">0.89</text>
<text transform="translate(225.44,206.59) scale(1,1.25)">0.21</text>
<text transform="translate(242.68,206.59) scale(1,1.25)">0.095</text>
<text transform="translate(259.93,206.59) scale(1,1.25)">0.89</text>
<text transform="translate(277.17,206.59) scale(1,1.25)">-0.68</text>
<text transform="translate(294.41,206.59) scale(1,1.25)">0.24</text>
<text transform="translate(311.65,206.59) scale(1,1.25)">0.82</text>
<text transform="translate(328.89,206.59) scale(1,1.25)">0</text>
<text transform="translate(346.14,206.59) scale(1,1.25)">0</text>
<text transform="translate(363.38,206.59) scale(1,1.25)">-0.18</text>
<text transform="translate(53.02,223.43) scale(1,1.25)">-0.087</text>
<text transform="translate(70.26,223.43) scale(1,1.25)">-0.087</text>
<text transform="translate(87.51,223.43) scale(1,1.25)">-0.087</text>
<text transform="translate(104.75,223.43) scale(1,1.25)">0.043</text>
<text transform="translate(121.99,223.43) scale(1,1.25)">0.087</text>
<text transform="translate(139.23,223.43) scale(1,1.25)">-0.087</text>
<text transform="translate(156.47,223.43) scale(1,1.25)">-0.087</text>
<text transform="translate(173.72,223.43) scale(1,1.25)">-0.043</text>
<text transform="translate(190.96,223.43) scale(1,1.25)">0.89</text>
<text transform="translate(208.20,223.43) scale(1,1.25)">1</text>
<text transform="translate(225.44,223.43) scale(1,1.25)">-0.018</text>
<text transform="translate(242.68,223.43) scale(1,1.25)">0.43</text>
<text transform="translate(259.93,223.43) scale(1,1.25)">1</text>
<text transform="translate(277.17,223.43) scale(1,1.25)">-0.29</text>
<text transform="translate(294.41,223.43) scale(1,1.25)">0.079</text>
<text transform="translate(311.65,223.43) scale(1,1.25)">0.54</text>
<text transform="translate(328.89,223.43) scale(1,1.25)">0</text>
<text transform="translate(346.14,223.43) scale(1,1.25)">0</text>
<text transform="translate(363.38,223.43) scale(1,1.25)">-0.12</text>
<text transform="translate(53.02,240.26) scale(1,1.25)">-0.087</text>
<text transform="translate(70.26,240.26) scale(1,1.25)">-0.087</text>
<text transform="translate(87.51,240.26) scale(1,1.25)">-0.087</text>
<text transform="translate(104.75,240.26) scale(1,1.25)">0.043</text>
<text transform="translate(121.99,240.26) scale(1,1.25)">0.087</text>
<text transform="translate(139.23,240.26) scale(1,1.25)">-0.087</text>
<text transform="translate(156.47,240.26) scale(1,1.25)">-0.087</text>
<text transform="translate(173.72,240.26) scale(1,1.25)">-0.043</text>
<text transform="translate(190.96,240.26) scale(1,1.25)">0.21</text>
<text transform="translate(208.20,240.26) scale(1,1.25)">-0.018</text>
<text transform="translate(225.44,240.26) scale(1,1.25)">1</text>
<text transform="translate(242.68,240.26) scale(1,1.25)">0.21</text>
<text transform="translate(259.93,240.26) scale(1,1.25)">-0.018</text>
<text transform="translate(277.17,240.26) scale(1,1.25)">-0.54</text>
<text transform="translate(294.41,240.26) scale(1,1.25)">0.86</text>
<text transform="translate(311.65,240.26) scale(1,1.25)">0.52</text>
<text transform="translate(328.89,240.26) scale(1,1.25)">0</text>
<text transform="translate(346.14,240.26) scale(1,1.25)">0</text>
<text transform="translate(363.38,240.26) scale(1,1.25)">-0.095</text>
<text transform="translate(53.02,257.09) scale(1,1.25)">-0.087</text>
<text transform="translate(70.26,257.09) scale(1,1.25)">-0.087</text>
<text transform="translate(87.51,257.09) scale(1,1.25)">-0.087</text>
<text transform="translate(104.75,257.09) scale(1,1.25)">0.043</text>
<text transform="translate(121.99,257.09) scale(1,1.25)">0.087</text>
<text transform="translate(139.23,257.09) scale(1,1.25)">-0.087</text>
<text transform="translate(156.47,257.09) scale(1,1.25)">-0.087</text>
<text transform="translate(173.72,257.09) scale(1,1.25)">-0.043</text>
<text transform="translate(190.96,257.09) scale(1,1.25)">0.095</text>
<text transform="translate(208.20,257.09) scale(1,1.25)">0.43</text>
<text transform="translate(225.44,257.09) scale(1,1.25)">0.21</text>
<text transform="translate(242.68,257.09) scale(1,1.25)">1</text>
<text transform="translate(259.93,257.09) scale(1,1.25)">0.43</text>
<text transform="translate(277.17,257.09) scale(1,1.25)">0.44</text>
<text transform="translate(294.41,257.09) scale(1,1.25)">0.15</text>
<text transform="translate(311.65,257.09) scale(1,1.25)">-0.2</text>
<text transform="translate(328.89,257.09) scale(1,1.25)">0</text>
<text transform="translate(346.14,257.09) scale(1,1.25)">0</text>
<text transform="translate(363.38,257.09) scale(1,1.25)">0.059</text>
<text transform="translate(53.02,273.93) scale(1,1.25)">-0.087</text>
<text transform="translate(70.26,273.93) scale(1,1.25)">-0.087</text>
<text transform="translate(87.51,273.93) scale(1,1.25)">-0.087</text>
<text transform="translate(104.75,273.93) scale(1,1.25)">0.043</text>
<text transform="translate(121.99,273.93) scale(1,1.25)">0.087</text>
<text transform="translate(139.23,273.93) scale(1,1.25)">-0.087</text>
<text transform="translate(156.47,273.93) scale(1,1.25)">-0.087</text>
<text transform="translate(173.72,273.93) scale(1,1.25)">-0.043</text>
<text transform="translate(190.96,273.93) scale(1,1.25)">0.89</text>
<text transform="translate(208.20,273.93) scale(1,1.25)">1</text>
<text transform="translate(225.44,273.93) scale(1,1.25)">-0.018</text>
<text transform="translate(242.68,273.93) scale(1,1.25)">0.43</text>
<text transform="translate(259.93,273.93) scale(1,1.25)">1</text>
<text transform="translate(277.17,273.93) scale(1,1.25)">-0.29</text>
<text transform="translate(294.41,273.93) scale(1,1.25)">0.079</text>
<text transform="translate(311.65,273.93) scale(1,1.25)">0.54</text>
<text transform="translate(328.89,273.93) scale(1,1.25)">0</text>
<text transform="translate(346.14,273.93) scale(1,1.25)">0</text>
<text transform="translate(363.38,273.93) scale(1,1.25)">-0.12</text>
<text transform="translate(53.02,290.76) scale(1,1.25)">0.045</text>
<text transform="translate(70.26,290.76) scale(1,1.25)">0.045</text>
<text transform="translate(87.51,290.76) scale(1,1.25)">0.045</text>
<text transform="translate(104.75,290.76) scale(1,1.25)">-0.022</text>
<text transform="translate(121.99,290.76) scale(1,1.25)">-0.045</text>
<text transform="translate(139.23,290.76) scale(1,1.25)">0.045</text>
<text transform="translate(156.47,290.76) scale(1,1.25)">0.045</text>
<text transform="translate(173.72,290.76) scale(1,1.25)">0.022</text>
<text transform="translate(190.96,290.76) scale(1,1.25)">-0.68</text>
<text transform="translate(208.20,290.76) scale(1,1.25)">-0.29</text>
<text transform="translate(225.44,290.76) scale(1,1.25)">-0.54</text>
<text transform="translate(242.68,290.76) scale(1,1.25)">0.44</text>
<text transform="translate(259.93,290.76) scale(1,1.25)">-0.29</text>
<text transform="translate(277.17,290.76) scale(1,1.25)">1</text>
<text transform="translate(294.41,290.76) scale(1,1.25)">-0.59</text>
<text transform="translate(311.65,290.76) scale(1,1.25)">-0.95</text>
<text transform="translate(328.89,290.76) scale(1,1.25)">0</text>
<text transform="translate(346.14,290.76) scale(1,1.25)">0</text>
<text transform="translate(363.38,290.76) scale(1,1.25)">0.22</text>
<text transform="translate(53.02,307.60) scale(1,1.25)">-0.067</text>
<text transform="translate(70.26,307.60) scale(1,1.25)">-0.067</text>
<text transform="translate(87.51,307.60) scale(1,1.25)">-0.067</text>
<text transform="translate(104.75,307.60) scale(1,1.25)">0.033</text>
<text transform="translate(121.99,307.60) scale(1,1.25)">0.067</text>
<text transform="translate(139.23,307.60) scale(1,1.25)">-0.067</text>
<text transform="translate(156.47,307.60) scale(1,1.25)">-0.067</text>
<text transform="translate(173.72,307.60) scale(1,1.25)">-0.033</text>
<text transform="translate(190.96,307.60) scale(1,1.25)">0.24</text>
<text transform="translate(208.20,307.60) scale(1,1.25)">0.079</text>
<text transform="translate(225.44,307.60) scale(1,1.25)">0.86</text>
<text transform="translate(242.68,307.60) scale(1,1.25)">0.15</text>
<text transform="translate(259.93,307.60) scale(1,1.25)">0.079</text>
<text transform="translate(277.17,307.60) scale(1,1.25)">-0.59</text>
<text transform="translate(294.41,307.60) scale(1,1.25)">1</text>
<text transform="translate(311.65,307.60) scale(1,1.25)">0.65</text>
<text transform="translate(328.89,307.60) scale(1,1.25)">0</text>
<text transform="translate(346.14,307.60) scale(1,1.25)">0</text>
<text transform="translate(363.38,307.60) scale(1,1.25)">-0.16</text>
<text transform="translate(53.02,324.43) scale(1,1.25)">-0.067</text>
<text transform="translate(70.26,324.43) scale(1,1.25)">-0.067</text>
<text transform="translate(87.51,324.43) scale(1,1.25)">-0.067</text>
<text transform="translate(104.75,324.43) scale(1,1.25)">0.033</text>
<text transform="translate(121.99,324.43) scale(1,1.25)">0.067</text>
<text transform="translate(139.23,324.43) scale(1,1.25)">-0.067</text>
<text transform="translate(156.47,324.43) scale(1,1.25)">-0.067</text>
<text transform="translate(173.72,324.43) scale(1,1.25)">-0.033</text>
<text transform="translate(190.96,324.43) scale(1,1.25)">0.82</text>
<text transform="translate(208.20,324.43) scale(1,1.25)">0.54</text>
<text transform="translate(225.44,324.43) scale(1,1.25)">0.52</text>
<text transform="translate(242.68,324.43) scale(1,1.25)">-0.2</text>
<text transform="translate(259.93,324.43) scale(1,1.25)">0.54</text>
<text transform="translate(277.17,324.43) scale(1,1.25)">-0.95</text>
<text transform="translate(294.41,324.43) scale(1,1.25)">0.65</text>
<text transform="translate(311.65,324.43) scale(1,1.25)">1</text>
<text transform="translate(328.89,324.43) scale(1,1.25)">0</text>
<text transform="translate(346.14,324.43) scale(1,1.25)">0</text>
<text transform="translate(363.38,324.43) scale(1,1.25)">-0.23</text>
<text transform="translate(53.02,341.26) scale(1,1.25)">0</text>
<text transform="translate(70.26,341.26) scale(1,1.25)">0</text>
<text transform="translate(87.51,341.26) scale(1,1.25)">0</text>
<text transform="translate(104.75,341.26) scale(1,1.25)">0</text>
<text transform="translate(121.99,341.26) scale(1,1.25)">0</text>
<text transform="translate(139.23,341.26) scale(1,1.25)">0</text>
<text transform="translate(156.47,341.26) scale(1,1.25)">0</text>
<text transform="translate(173.72,341.26) scale(1,1.25)">0</text>
<text transform="translate(190.96,341.26) scale(1,1.25)">0</text>
<text transform="translate(208.20,341.26) scale(1,1.25)">0</text>
<text transform="translate(225.44,341.26) scale(1,1.25)">0</text>
<text transform="translate(242.68,341.26) scale(1,1.25)">0</text>
<text transform="translate(259.93,341.26) scale(1,1.25)">0</text>
<text transform="translate(277.17,341.26) scale(1,1.25)">0</text>
<text transform="translate(294.41,341.26) scale(1,1.25)">0</text>
<text transform="translate(311.65,341.26) scale(1,1.25)">0</text>
<text transform="translate(328.89,341.26) scale(1,1.25)">1</text>
<text transform="translate(346.14,341.26) scale(1,1.25)">0</text>
<text transform="translate(363.38,341.26) scale(1,1.25)">-0.16</text>
<text transform="translate(53.02,358.10) scale(1,1.25)">0</text>
<text transform="translate(70.26,358.10) scale(1,1.25)">0</text>
<text transform="translate(87.51,358.10) scale(1,1.25)">0</text>
<text transform="translate(104.75,358.10) scale(1,1.25)">0</text>
<text transform="translate(121.99,358.10) scale(1,1.25)">0</text>
<text transform="translate(139.23,358.10) scale(1,1.25)">0</text>
<text transform="translate(156.47,358.10) scale(1,1.25)">0</text>
<text transform="translate(173.72,358.10) scale(1,1.25)">0</text>
<text transform="translate(190.96,358.10) scale(1,1.25)">0</text>
<text transform="translate(208.20,358.10) scale(1,1.25)">0</text>
<text transform="translate(225.44,358.10) scale(1,1.25)">0</text>
<text transform="translate(242.68,358.10) scale(1,1.25)">0</text>
<text transform="translate(259.93,358.10) scale(1,1.25)">0</text>
<text transform="translate(277.17,358.10) scale(1,1.25)">0</text>
<text transform="translate(294.41,358.10) scale(1,1.25)">0</text>
<text transform="translate(311.65,358.10) scale(1,1.25)">0</text>
<text transform="translate(328.89,358.10) scale(1,1.25)">0</text>
<text transform="translate(346.14,358.10) scale(1,1.25)">1</text>
<text transform="translate(363.38,358.10) scale(1,1.25)">0.26</text>
<text transform="translate(53.02,374.93) scale(1,1.25)">0.13</text>
<text transform="translate(70.26,374.93) scale(1,1.25)">0.12</text>
<text transform="translate(87.51,374.93) scale(1,1.25)">0.15</text>
<text transform="translate(104.75,374.93) scale(1,1.25)">-0.032</text>
<text transform="translate(121.99,374.93) scale(1,1.25)">-0.15</text>
<text transform="translate(139.23,374.93) scale(1,1.25)">-0.11</text>
<text transform="translate(156.47,374.93) scale(1,1.25)">0.11</text>
<text transform="translate(173.72,374.93) scale(1,1.25)">-0.16</text>
<text transform="translate(190.96,374.93) scale(1,1.25)">-0.18</text>
<text transform="translate(208.20,374.93) scale(1,1.25)">-0.12</text>
<text transform="translate(225.44,374.93) scale(1,1.25)">-0.095</text>
<text transform="translate(242.68,374.93) scale(1,1.25)">0.059</text>
<text transform="translate(259.93,374.93) scale(1,1.25)">-0.12</text>
<text transform="translate(277.17,374.93) scale(1,1.25)">0.22</text>
<text transform="translate(294.41,374.93) scale(1,1.25)">-0.16</text>
<text transform="translate(311.65,374.93) scale(1,1.25)">-0.23</text>
<text transform="translate(328.89,374.93) scale(1,1.25)">-0.16</text>
<text transform="translate(346.14,374.93) scale(1,1.25)">0.26</text>
<text transform="translate(363.38,374.93) scale(1,1.25)">1</text>
</g>
<text class="d" x="208" y="60.5" font-size="2.9" text-anchor="middle" fill="#8a8a8a">Correlation Heatmap</text>
<text class="b" x="41.9" y="71.75" font-size="7.9" text-anchor="end">DM1</text>
<text class="b" transform="translate(24.89,69.75) scale(0.78,1)" font-size="13.3" text-anchor="end" stroke="#000" stroke-width="0.45">F</text>
<text class="b" x="41.9" y="88.81" font-size="7.9" text-anchor="end">DM2</text>
<text class="b" transform="translate(24.89,86.81) scale(0.78,1)" font-size="13.3" text-anchor="end" stroke="#000" stroke-width="0.45">F</text>
<text class="b" x="41.9" y="105.87" font-size="7.9" text-anchor="end">APC</text>
<text class="b" transform="translate(25.76,103.87) scale(0.78,1)" font-size="13.3" text-anchor="end" stroke="#000" stroke-width="0.45">M</text>
<text class="b" x="41.9" y="122.93" font-size="7.9" text-anchor="end">EI</text>
<text class="b" transform="translate(33.66,120.93) scale(0.78,1)" font-size="13.3" text-anchor="end" stroke="#000" stroke-width="0.45">M</text>
<text class="b" x="41.9" y="139.99" font-size="7.9" text-anchor="end">PC</text>
<text class="b" transform="translate(31.47,137.99) scale(0.78,1)" font-size="13.3" text-anchor="end" stroke="#000" stroke-width="0.45">M</text>
<text class="b" x="41.9" y="157.05" font-size="7.9" text-anchor="end">V</text>
<text class="b" transform="translate(36.29,155.05) scale(0.78,1)" font-size="13.3" text-anchor="end" stroke="#000" stroke-width="0.45">S</text>
<text class="b" x="41.9" y="174.11" font-size="7.9" text-anchor="end">PSA</text>
<text class="b" transform="translate(27.08,172.11) scale(0.78,1)" font-size="13.3" text-anchor="end" stroke="#000" stroke-width="0.45">T</text>
<text class="b" x="41.9" y="191.17" font-size="7.9" text-anchor="end">E</text>
<text class="b" transform="translate(36.73,189.17) scale(0.78,1)" font-size="13.3" text-anchor="end" stroke="#000" stroke-width="0.45">V</text>
<text class="b" x="41.9" y="208.23" font-size="7.9" text-anchor="end">EV</text>
<text class="b" transform="translate(31.03,206.23) scale(0.78,1)" font-size="13.3" text-anchor="end" stroke="#000" stroke-width="0.45">A</text>
<text class="b" x="41.9" y="225.29" font-size="7.9" text-anchor="end">HA</text>
<text class="b" transform="translate(30.15,223.29) scale(0.78,1)" font-size="13.3" text-anchor="end" stroke="#000" stroke-width="0.45">A</text>
<text class="b" x="41.9" y="242.35" font-size="7.9" text-anchor="end">K1</text>
<text class="b" transform="translate(31.91,240.35) scale(0.78,1)" font-size="13.3" text-anchor="end" stroke="#000" stroke-width="0.45">A</text>
<text class="b" x="41.9" y="259.41" font-size="7.9" text-anchor="end">K3</text>
<text class="b" transform="translate(31.91,257.41) scale(0.78,1)" font-size="13.3" text-anchor="end" stroke="#000" stroke-width="0.45">A</text>
<text class="b" x="41.9" y="276.47" font-size="7.9" text-anchor="end">LA</text>
<text class="b" transform="translate(31.03,274.47) scale(0.78,1)" font-size="13.3" text-anchor="end" stroke="#000" stroke-width="0.45">A</text>
<text class="b" x="41.9" y="293.53" font-size="7.9" text-anchor="end">M</text>
<text class="b" transform="translate(34.54,291.53) scale(0.78,1)" font-size="13.3" text-anchor="end" stroke="#000" stroke-width="0.45">A</text>
<text class="b" x="41.9" y="310.59" font-size="7.9" text-anchor="end">PV</text>
<text class="b" transform="translate(31.47,308.59) scale(0.78,1)" font-size="13.3" text-anchor="end" stroke="#000" stroke-width="0.45">A</text>
<text class="b" x="41.9" y="327.65" font-size="7.9" text-anchor="end">SV</text>
<text class="b" transform="translate(31.90,325.65) scale(0.78,1)" font-size="13.3" text-anchor="end" stroke="#000" stroke-width="0.45">A</text>
<text class="b" transform="translate(41.90,342.71) scale(0.78,1)" font-size="13.3" text-anchor="end" stroke="#000" stroke-width="0.45">T</text>
<text class="b" x="41.9" y="361.77" font-size="7.9" text-anchor="end">R</text>
<text class="b" transform="translate(36.29,359.77) scale(0.78,1)" font-size="13.3" text-anchor="end" stroke="#000" stroke-width="0.45">D</text>
<text class="b" transform="translate(41.90,376.83) scale(0.835,1)" font-size="13.3" text-anchor="end" stroke="#000" stroke-width="0.45">Stability</text>
<text class="b" transform="translate(55.15,383.5) rotate(-90)" font-size="11.5" text-anchor="end">F<tspan font-size="7.9" dy="2.8">DM1</tspan></text>
<text class="b" transform="translate(72.25,383.5) rotate(-90)" font-size="11.5" text-anchor="end">F<tspan font-size="7.9" dy="2.8">DM2</tspan></text>
<text class="b" transform="translate(89.35,383.5) rotate(-90)" font-size="11.5" text-anchor="end">M<tspan font-size="7.9" dy="2.8">APC</tspan></text>
<text class="b" transform="translate(106.45,383.5) rotate(-90)" font-size="11.5" text-anchor="end">M<tspan font-size="7.9" dy="2.8">EI</tspan></text>
<text class="b" transform="translate(123.55,383.5) rotate(-90)" font-size="11.5" text-anchor="end">M<tspan font-size="7.9" dy="2.8">PC</tspan></text>
<text class="b" transform="translate(140.65,383.5) rotate(-90)" font-size="11.5" text-anchor="end">S<tspan font-size="7.9" dy="2.8">V</tspan></text>
<text class="b" transform="translate(157.75,383.5) rotate(-90)" font-size="11.5" text-anchor="end">T<tspan font-size="7.9" dy="2.8">PSA</tspan></text>
<text class="b" transform="translate(174.85,383.5) rotate(-90)" font-size="11.5" text-anchor="end">V<tspan font-size="7.9" dy="2.8">E</tspan></text>
<text class="b" transform="translate(191.95,383.5) rotate(-90)" font-size="11.5" text-anchor="end">A<tspan font-size="7.9" dy="2.8">EV</tspan></text>
<text class="b" transform="translate(209.05,383.5) rotate(-90)" font-size="11.5" text-anchor="end">A<tspan font-size="7.9" dy="2.8">HA</tspan></text>
<text class="b" transform="translate(226.15,383.5) rotate(-90)" font-size="11.5" text-anchor="end">A<tspan font-size="7.9" dy="2.8">K1</tspan></text>
<text class="b" transform="translate(243.25,383.5) rotate(-90)" font-size="11.5" text-anchor="end">A<tspan font-size="7.9" dy="2.8">K3</tspan></text>
<text class="b" transform="translate(260.35,383.5) rotate(-90)" font-size="11.5" text-anchor="end">A<tspan font-size="7.9" dy="2.8">LA</tspan></text>
<text class="b" transform="translate(277.45,383.5) rotate(-90)" font-size="11.5" text-anchor="end">A<tspan font-size="7.9" dy="2.8">M</tspan></text>
<text class="b" transform="translate(294.55,383.5) rotate(-90)" font-size="11.5" text-anchor="end">A<tspan font-size="7.9" dy="2.8">PV</tspan></text>
<text class="b" transform="translate(311.65,383.5) rotate(-90)" font-size="11.5" text-anchor="end">A<tspan font-size="7.9" dy="2.8">SV</tspan></text>
<text class="b" transform="translate(328.75,383.5) rotate(-90)" font-size="11.5" text-anchor="end">T</text>
<text class="b" transform="translate(345.85,383.5) rotate(-90)" font-size="11.5" text-anchor="end">D<tspan font-size="7.9" dy="2.8">R</tspan></text>
<text class="b" transform="translate(362.95,383.5) rotate(-90)" font-size="11.5" text-anchor="end">Stability</text>
<g stroke="#888" stroke-width="0.5">
<line x1="43.10" y1="69.67" x2="44.40" y2="69.67"/>
<line x1="53.02" y1="381.10" x2="53.02" y2="382.40"/>
<line x1="43.10" y1="86.50" x2="44.40" y2="86.50"/>
<line x1="70.26" y1="381.10" x2="70.26" y2="382.40"/>
<line x1="43.10" y1="103.34" x2="44.40" y2="103.34"/>
<line x1="87.51" y1="381.10" x2="87.51" y2="382.40"/>
<line x1="43.10" y1="120.17" x2="44.40" y2="120.17"/>
<line x1="104.75" y1="381.10" x2="104.75" y2="382.40"/>
<line x1="43.10" y1="137.00" x2="44.40" y2="137.00"/>
<line x1="121.99" y1="381.10" x2="121.99" y2="382.40"/>
<line x1="43.10" y1="153.84" x2="44.40" y2="153.84"/>
<line x1="139.23" y1="381.10" x2="139.23" y2="382.40"/>
<line x1="43.10" y1="170.67" x2="44.40" y2="170.67"/>
<line x1="156.47" y1="381.10" x2="156.47" y2="382.40"/>
<line x1="43.10" y1="187.51" x2="44.40" y2="187.51"/>
<line x1="173.72" y1="381.10" x2="173.72" y2="382.40"/>
<line x1="43.10" y1="204.34" x2="44.40" y2="204.34"/>
<line x1="190.96" y1="381.10" x2="190.96" y2="382.40"/>
<line x1="43.10" y1="221.18" x2="44.40" y2="221.18"/>
<line x1="208.20" y1="381.10" x2="208.20" y2="382.40"/>
<line x1="43.10" y1="238.01" x2="44.40" y2="238.01"/>
<line x1="225.44" y1="381.10" x2="225.44" y2="382.40"/>
<line x1="43.10" y1="254.84" x2="44.40" y2="254.84"/>
<line x1="242.68" y1="381.10" x2="242.68" y2="382.40"/>
<line x1="43.10" y1="271.68" x2="44.40" y2="271.68"/>
<line x1="259.93" y1="381.10" x2="259.93" y2="382.40"/>
<line x1="43.10" y1="288.51" x2="44.40" y2="288.51"/>
<line x1="277.17" y1="381.10" x2="277.17" y2="382.40"/>
<line x1="43.10" y1="305.35" x2="44.40" y2="305.35"/>
<line x1="294.41" y1="381.10" x2="294.41" y2="382.40"/>
<line x1="43.10" y1="322.18" x2="44.40" y2="322.18"/>
<line x1="311.65" y1="381.10" x2="311.65" y2="382.40"/>
<line x1="43.10" y1="339.01" x2="44.40" y2="339.01"/>
<line x1="328.89" y1="381.10" x2="328.89" y2="382.40"/>
<line x1="43.10" y1="355.85" x2="44.40" y2="355.85"/>
<line x1="346.14" y1="381.10" x2="346.14" y2="382.40"/>
<line x1="43.10" y1="372.68" x2="44.40" y2="372.68"/>
<line x1="363.38" y1="381.10" x2="363.38" y2="382.40"/>
</g>
<defs><linearGradient id="gv" x1="0" y1="1" x2="0" y2="0">
<stop offset="0.0000" stop-color="#440154"/>
<stop offset="0.0312" stop-color="#470d60"/>
<stop offset="0.0625" stop-color="#48186a"/>
<stop offset="0.0938" stop-color="#482374"/>
<stop offset="0.1250" stop-color="#472d7b"/>
<stop offset="0.1562" stop-color="#453781"/>
<stop offset="0.1875" stop-color="#424086"/>
<stop offset="0.2188" stop-color="#3e4989"/>
<stop offset="0.2500" stop-color="#3b528b"/>
<stop offset="0.2812" stop-color="#375b8d"/>
<stop offset="0.3125" stop-color="#33638d"/>
<stop offset="0.3438" stop-color="#2f6b8e"/>
<stop offset="0.3750" stop-color="#2c728e"/>
<stop offset="0.4062" stop-color="#297a8e"/>
<stop offset="0.4375" stop-color="#26828e"/>
<stop offset="0.4688" stop-color="#23898e"/>
<stop offset="0.5000" stop-color="#21918c"/>
<stop offset="0.5312" stop-color="#1f988b"/>
<stop offset="0.5625" stop-color="#1fa088"/>
<stop offset="0.5938" stop-color="#22a785"/>
<stop offset="0.6250" stop-color="#28ae80"/>
<stop offset="0.6562" stop-color="#32b67a"/>
<stop offset="0.6875" stop-color="#3fbc73"/>
<stop offset="0.7188" stop-color="#4ec36b"/>
<stop offset="0.7500" stop-color="#5ec962"/>
<stop offset="0.7812" stop-color="#70cf57"/>
<stop offset="0.8125" stop-color="#84d44b"/>
<stop offset="0.8438" stop-color="#98d83e"/>
<stop offset="0.8750" stop-color="#addc30"/>
<stop offset="0.9062" stop-color="#c2df23"/>
<stop offset="0.9375" stop-color="#d8e219"/>
<stop offset="0.9688" stop-color="#ece51b"/>
<stop offset="1.0000" stop-color="#fde725"/>
</linearGradient>
<linearGradient id="gr" x1="0" y1="1" x2="0" y2="0">
<stop offset="0.0000" stop-color="#8000ff"/>
<stop offset="0.0312" stop-color="#7019ff"/>
<stop offset="0.0625" stop-color="#6032fe"/>
<stop offset="0.0938" stop-color="#504afc"/>
<stop offset="0.1250" stop-color="#4062fa"/>
<stop offset="0.1562" stop-color="#3079f7"/>
<stop offset="0.1875" stop-color="#208ef4"/>
<stop offset="0.2188" stop-color="#10a2f0"/>
<stop offset="0.2500" stop-color="#00b5eb"/>
<stop offset="0.2812" stop-color="#10c6e6"/>
<stop offset="0.3125" stop-color="#20d5e1"/>
<stop offset="0.3438" stop-color="#30e1da"/>
<stop offset="0.3750" stop-color="#40ecd4"/>
<stop offset="0.4062" stop-color="#50f4cc"/>
<stop offset="0.4375" stop-color="#60fac5"/>
<stop offset="0.4688" stop-color="#70febc"/>
<stop offset="0.5000" stop-color="#80ffb4"/>
<stop offset="0.5312" stop-color="#90feab"/>
<stop offset="0.5625" stop-color="#a0faa1"/>
<stop offset="0.5938" stop-color="#b0f397"/>
<stop offset="0.6250" stop-color="#c0eb8d"/>
<stop offset="0.6562" stop-color="#d0e082"/>
<stop offset="0.6875" stop-color="#e0d377"/>
<stop offset="0.7188" stop-color="#f0c46c"/>
<stop offset="0.7500" stop-color="#ffb360"/>
<stop offset="0.7812" stop-color="#ffa055"/>
<stop offset="0.8125" stop-color="#ff8c49"/>
<stop offset="0.8438" stop-color="#ff763d"/>
<stop offset="0.8750" stop-color="#ff5f30"/>
<stop offset="0.9062" stop-color="#ff4724"/>
<stop offset="0.9375" stop-color="#ff2f18"/>
<stop offset="0.9688" stop-color="#ff160b"/>
<stop offset="1.0000" stop-color="#ff0000"/>
</linearGradient></defs>
<rect x="392.1" y="61.4" width="16.3" height="319.5" fill="url(#gv)"/>
<g stroke="#888" stroke-width="0.5">
<line x1="408.4" y1="61.5" x2="410" y2="61.5"/>
<line x1="408.4" y1="101.5" x2="410" y2="101.5"/>
<line x1="408.4" y1="141.5" x2="410" y2="141.5"/>
<line x1="408.4" y1="181.5" x2="410" y2="181.5"/>
<line x1="408.4" y1="221.5" x2="410" y2="221.5"/>
<line x1="408.4" y1="261.5" x2="410" y2="261.5"/>
<line x1="408.4" y1="301.5" x2="410" y2="301.5"/>
<line x1="408.4" y1="341.5" x2="410" y2="341.5"/>
<line x1="408.4" y1="381.5" x2="410" y2="381.5"/>
</g>
<g class="b" font-size="11.4" text-anchor="end">
<text x="435" y="67.3">1.00</text>
<text x="435" y="103.5">0.75</text>
<text x="435" y="139.1">0.50</text>
<text x="435" y="175.3">0.25</text>
<text x="435" y="210.9">0.00</text>
<text x="435" y="246.8">-0.25</text>
<text x="435" y="282.9">-0.50</text>
<text x="435" y="318.8">-0.75</text>
<text x="435" y="354.8">-1.00</text>
</g>
<text class="b" x="20.2" y="28.4" font-size="15.2">(a)</text>
<g id="pb">
<rect x="503.3" y="18.3" width="175.99999999999994" height="165.0" fill="#fff" stroke="#4d4d4d" stroke-width="0.8"/>
<g stroke="#333" stroke-width="0.7">
<line x1="511.2" y1="183.3" x2="511.2" y2="185.5"/>
<line x1="501.1" y1="175.7" x2="503.3" y2="175.7"/>
<line x1="543.2" y1="183.3" x2="543.2" y2="185.5"/>
<line x1="501.1" y1="145.7" x2="503.3" y2="145.7"/>
<line x1="575.2" y1="183.3" x2="575.2" y2="185.5"/>
<line x1="501.1" y1="115.7" x2="503.3" y2="115.7"/>
<line x1="607.2" y1="183.3" x2="607.2" y2="185.5"/>
<line x1="501.1" y1="85.8" x2="503.3" y2="85.8"/>
<line x1="639.2" y1="183.3" x2="639.2" y2="185.5"/>
<line x1="501.1" y1="55.8" x2="503.3" y2="55.8"/>
<line x1="671.2" y1="183.3" x2="671.2" y2="185.5"/>
<line x1="501.1" y1="25.8" x2="503.3" y2="25.8"/>
</g>
<line x1="511.2" y1="175.7" x2="671.2" y2="25.8" stroke="#111" stroke-width="1.1" stroke-dasharray="3.2,1.6"/>
<path d="M511,175.7 V155.7 H512.9 V150.7 H514.8 V125.6 H517.4 V110.9 H518.6 V86.3 H520.3 V76.1 H522.4 V66.1 H526.3 V60.9 H527.9 V56 H529.7 V51.1 H541 V45.8 H559.5 V41 H567.5 V36 H609.6 V31.2 H647 V25.9 H671.3" fill="none" stroke="#2b7bba" stroke-width="1.2" stroke-linejoin="miter"/>
<text class="b" x="582.2" y="12.0" font-size="15.2" text-anchor="middle">ROC Curve</text>
<line x1="513.3" y1="26.1" x2="533.2" y2="26.1" stroke="#2b7bba" stroke-width="1.2"/>
<text class="b" x="537.2" y="30.5" font-size="11.4">ROC Curve</text>
<text class="b" transform="translate(472.9,96.8) rotate(-90)" font-size="14.8" text-anchor="middle">The Positive Rate</text>
<text class="b" x="587.5" y="214.1" font-size="15.0" text-anchor="middle">False Positive Rate</text>
<g class="s" font-size="11.4" fill="#1a1a1a">
<text x="512.2" y="195.8" text-anchor="middle">0.0</text>
<text x="544" y="195.8" text-anchor="middle">0.2</text>
<text x="571.8" y="195.8" text-anchor="middle">0.4</text>
<text x="607.2" y="195.8" text-anchor="middle">0.6</text>
<text x="637.7" y="195.8" text-anchor="middle">0.8</text>
<text x="665.8" y="195.8" text-anchor="middle">1.0</text>
<text x="498.6" y="29.8" text-anchor="end">1.0</text>
<text x="498.6" y="59.8" text-anchor="end">0.8</text>
<text x="498.6" y="89.7" text-anchor="end">0.6</text>
<text x="498.6" y="119.6" text-anchor="end">0.4</text>
<text x="498.6" y="149.5" text-anchor="end">0.2</text>
<text x="498.6" y="179.4" text-anchor="end">0.0</text>
</g>
<text class="b" x="444.3" y="28.5" font-size="15.2">(b)</text>
</g>
<g id="pc">
<rect x="507.2" y="242.2" width="175.8" height="162.10000000000002" fill="#fff" stroke="#4d4d4d" stroke-width="0.8"/>
<g stroke="#333" stroke-width="0.7">
<line x1="515.0" y1="404.3" x2="515.0" y2="406.5"/>
<line x1="505.0" y1="399.0" x2="507.2" y2="399.0"/>
<line x1="547.0" y1="404.3" x2="547.0" y2="406.5"/>
<line x1="505.0" y1="369.1" x2="507.2" y2="369.1"/>
<line x1="579.0" y1="404.3" x2="579.0" y2="406.5"/>
<line x1="505.0" y1="339.2" x2="507.2" y2="339.2"/>
<line x1="611.0" y1="404.3" x2="611.0" y2="406.5"/>
<line x1="505.0" y1="309.2" x2="507.2" y2="309.2"/>
<line x1="643.0" y1="404.3" x2="643.0" y2="406.5"/>
<line x1="505.0" y1="279.3" x2="507.2" y2="279.3"/>
<line x1="675.0" y1="404.3" x2="675.0" y2="406.5"/>
<line x1="505.0" y1="249.4" x2="507.2" y2="249.4"/>
</g>
<line x1="515" y1="399" x2="675" y2="249.4" stroke="#111" stroke-width="1.1" stroke-dasharray="3.2,1.6"/>
<path d="M514.7,399 V271.6 H516.5 V262.1 H517.3 V256.8 H518.4 V254.4 H527.4 V251.8 H539.5 V249.5 H675" fill="none" stroke="#2b7bba" stroke-width="1.2" stroke-linejoin="miter"/>
<text class="b" x="593.7" y="233.6" font-size="15.2" text-anchor="middle">ROC Curve</text>
<line x1="537.3" y1="257.6" x2="557.8" y2="257.6" stroke="#2b7bba" stroke-width="1.2"/>
<text class="b" x="560.4" y="261.3" font-size="11.4">ROC Curve</text>
<text class="b" transform="translate(485.9,316.8) rotate(-90)" font-size="14.8" text-anchor="middle">The Positive Rate</text>
<text class="b" x="601" y="434.5" font-size="15.0" text-anchor="middle">False Positive Rate</text>
<g class="s" font-size="11.4" fill="#1a1a1a">
<text x="520.8" y="419.2" text-anchor="middle">0.0</text>
<text x="552.4" y="419.2" text-anchor="middle">0.2</text>
<text x="581" y="419.2" text-anchor="middle">0.4</text>
<text x="611.5" y="419.2" text-anchor="middle">0.6</text>
<text x="645.8" y="419.2" text-anchor="middle">0.8</text>
<text x="674.2" y="419.2" text-anchor="middle">1.0</text>
<text x="504.6" y="253.5" text-anchor="end">1.0</text>
<text x="504.6" y="283.5" text-anchor="end">0.8</text>
<text x="504.6" y="313.5" text-anchor="end">0.6</text>
<text x="504.6" y="343.2" text-anchor="end">0.4</text>
<text x="504.6" y="373" text-anchor="end">0.2</text>
<text x="504.6" y="402.8" text-anchor="end">0.0</text>
</g>
<text class="b" x="457.5" y="244.5" font-size="15.2">(c)</text>
</g>
<g id="ib">
<rect x="532.8" y="50.4" width="145.5" height="131.5" fill="#fff"/>
<rect x="552.8" y="59.8" width="100.40000000000009" height="99.8" fill="#2686f5"/>
<rect x="552.8" y="59.8" width="50.20" height="99.8" fill="#4c50fc"/>
<rect x="552.8" y="59.8" width="100.40000000000009" height="49.90" fill="#8000ff"/>
<rect x="552.8" y="59.8" width="50.20" height="49.90" fill="#ff0000"/>
<rect x="552.8" y="59.8" width="100.40000000000009" height="99.8" fill="none" stroke="#222" stroke-opacity="0.55" stroke-width="0.5"/>
<g class="s" font-size="15.2" text-anchor="middle" fill="#111">
<text x="577.9" y="89.9">82</text>
<text x="628.1" y="89.9">4</text>
<text x="577.9" y="139.8">12</text>
<text x="628.1" y="139.8">18</text>
</g>
<rect x="660.6" y="59.8" width="5.0" height="99.8" fill="url(#gr)"/>
<g class="d" font-size="5.5" fill="#222">
<g stroke="#333" stroke-width="0.4">
<line x1="665.6" y1="62.36" x2="666.9" y2="62.36"/>
<line x1="665.6" y1="75.15" x2="666.9" y2="75.15"/>
<line x1="665.6" y1="87.95" x2="666.9" y2="87.95"/>
<line x1="665.6" y1="100.74" x2="666.9" y2="100.74"/>
<line x1="665.6" y1="113.54" x2="666.9" y2="113.54"/>
<line x1="665.6" y1="126.33" x2="666.9" y2="126.33"/>
<line x1="665.6" y1="139.13" x2="666.9" y2="139.13"/>
<line x1="665.6" y1="151.92" x2="666.9" y2="151.92"/>
</g>
<text x="668.4" y="64.26">80</text>
<text x="668.4" y="77.05">70</text>
<text x="668.4" y="89.85">60</text>
<text x="668.4" y="102.64">50</text>
<text x="668.4" y="115.44">40</text>
<text x="668.4" y="128.23">30</text>
<text x="668.4" y="141.03">20</text>
<text x="668.4" y="153.82">10</text>
</g>
<text class="d" x="602.9" y="57.3" font-size="5.5" text-anchor="middle" fill="#111">Confusion Matrix</text>
<text class="b" x="600" y="178.2" font-size="9.0" text-anchor="middle">Predicted</text>
<text class="b" transform="translate(539.1,108.2) rotate(-90)" font-size="8.9" text-anchor="middle">Actual</text>
<g class="s" font-size="7.0" fill="#222">
<g stroke="#333" stroke-width="0.4">
<line x1="577.9" y1="159.6" x2="577.9" y2="160.9"/><line x1="628.1" y1="159.6" x2="628.1" y2="160.9"/>
<line x1="551.5" y1="84.8" x2="552.8" y2="84.8"/><line x1="551.5" y1="134.6" x2="552.8" y2="134.6"/>
</g>
<text x="578.7" y="166.4" text-anchor="middle">0.0</text>
<text x="628.8" y="166.4" text-anchor="middle">1.0</text>
<text x="548.8" y="87.4" text-anchor="end">0.0</text>
<text x="548.8" y="137.0" text-anchor="end">1.0</text>
</g>
</g>
<g id="ic">
<rect x="538.6" y="269.4" width="143.5" height="133.5" fill="#fff"/>
<rect x="553.2" y="286.9" width="95.69999999999993" height="95.10000000000002" fill="#11a0f1"/>
<rect x="553.2" y="286.9" width="47.85" height="95.10000000000002" fill="#5c38fd"/>
<rect x="553.2" y="286.9" width="95.69999999999993" height="47.55" fill="#8000ff"/>
<rect x="553.2" y="286.9" width="47.85" height="47.55" fill="#ff0000"/>
<rect x="553.2" y="286.9" width="95.69999999999993" height="95.10000000000002" fill="none" stroke="#222" stroke-opacity="0.55" stroke-width="0.5"/>
<g class="s" font-size="14.8" text-anchor="middle" fill="#111">
<text x="580.8" y="315.7">208</text>
<text x="625.2" y="315.7">0</text>
<text x="577.7" y="363.2">15</text>
<text x="625.0" y="363.2">45</text>
</g>
<rect x="656.1" y="286.9" width="4.699999999999932" height="95.10000000000002" fill="url(#gr)"/>
<g class="s" font-size="6.7" fill="#222">
<g stroke="#333" stroke-width="0.4">
<line x1="660.8" y1="290.56" x2="662.0999999999999" y2="290.56"/>
<line x1="660.8" y1="301.99" x2="662.0999999999999" y2="301.99"/>
<line x1="660.8" y1="313.42" x2="662.0999999999999" y2="313.42"/>
<line x1="660.8" y1="324.85" x2="662.0999999999999" y2="324.85"/>
<line x1="660.8" y1="336.28" x2="662.0999999999999" y2="336.28"/>
<line x1="660.8" y1="347.71" x2="662.0999999999999" y2="347.71"/>
<line x1="660.8" y1="359.14" x2="662.0999999999999" y2="359.14"/>
<line x1="660.8" y1="370.57" x2="662.0999999999999" y2="370.57"/>
<line x1="660.8" y1="382.00" x2="662.0999999999999" y2="382.00"/>
</g>
<text x="664.5" y="292.87">200</text>
<text x="664.5" y="304.30">175</text>
<text x="664.5" y="315.73">150</text>
<text x="664.5" y="327.16">125</text>
<text x="664.5" y="338.59">100</text>
<text x="664.5" y="350.02">75</text>
<text x="664.5" y="361.45">50</text>
<text x="664.5" y="372.88">25</text>
<text x="664.5" y="384.31">0</text>
</g>
<text class="b" x="603.4" y="281.2" font-size="8.8" text-anchor="middle" fill="#111">Confusion matrix</text>
<text class="b" x="599.6" y="400.5" font-size="8.6" text-anchor="middle">Predicted</text>
<g class="s" font-size="6.3" fill="#222">
<g stroke="#333" stroke-width="0.4">
<line x1="577.1" y1="382.0" x2="577.1" y2="383.3"/><line x1="625.0" y1="382.0" x2="625.0" y2="383.3"/>
<line x1="551.9000000000001" y1="310.7" x2="553.2" y2="310.7"/><line x1="551.9000000000001" y1="358.2" x2="553.2" y2="358.2"/>
</g>
<text x="578.1" y="390.3" text-anchor="middle">0.0</text>
<text x="626.2" y="390.3" text-anchor="middle">1.0</text>
<text x="548.2" y="313.1" text-anchor="end">0.0</text>
<text x="547.8" y="360.6" text-anchor="end">1.0</text>
</g>
</g>
<path d="M634.6,401.2 H680.6 V377" fill="none" stroke="#e6e6e6" stroke-width="0.7"/>
</svg></body></html>
